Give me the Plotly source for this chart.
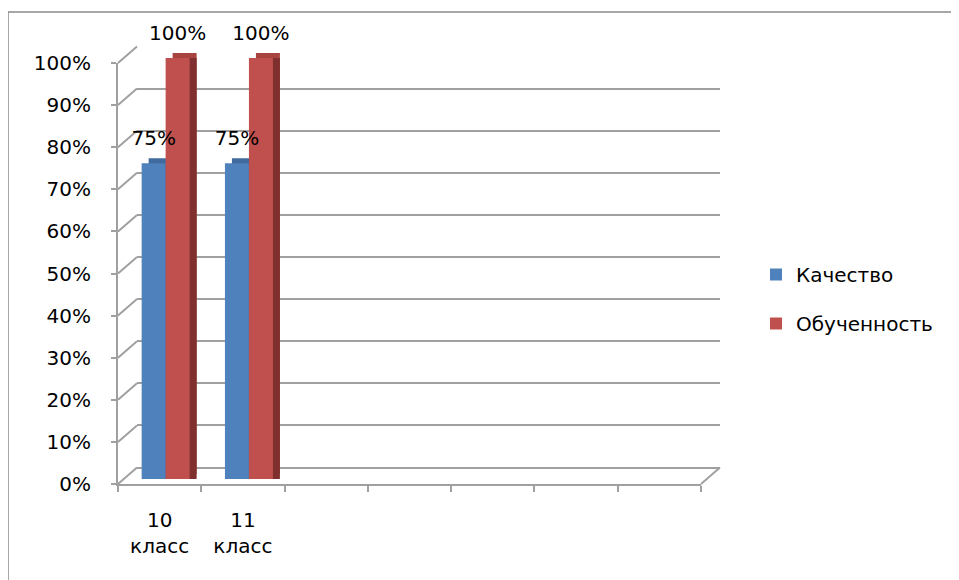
import plotly.graph_objects as go

# ---- data ----
categories = ["10 класс", "11 класс"]
series_names = ["Качество", "Обученность"]
kachestvo = [0.75, 0.75]
obuchennost = [1.0, 1.0]
n_slots = 7  # category slots on the axis (5 are empty)
y_ticks = [0, 0.1, 0.2, 0.3, 0.4, 0.5, 0.6, 0.7, 0.8, 0.9, 1.0]

# ---- style / geometry ----
W, H = 959, 580
PAGE = 8                 # browser body margin, compensated
FX0, FX1 = 118, 701      # front x-extent (px in window)
FY0, FH = 484, 421       # front 0% y (px), pixels for 100%
FONT = "DejaVu Sans"
FS = 20
BLUE, RED = "#4F81BD", "#C0504D"
BLUE_TOP, RED_TOP = "#3F6B9E", "#A8433F"
BLUE_SIDE, RED_SIDE = "#3A5F8B", "#7F2F2D"
GRID = "#A0A0A0"

layers = {
    "back": (19, -16.5),
    "top": (13, -10),
    "side": (13, -5),
    "bars": (6, -5),
    "labels": (6, -15),
    "front": (0, 0),
}


def px(x):
    return (x - PAGE) / W


def py(y):
    return 1 - (y - PAGE) / H


def xdom(dx):
    return [px(FX0 + dx), px(FX1 + dx)]


def ydom(dy):
    return [py(FY0 + dy), py(FY0 + dy - FH)]


xpos = list(range(len(categories)))
xr = [-0.5, n_slots - 0.5]
BARGAP = 0.424

fig = go.Figure()

order = ["back", "top", "side", "bars", "labels", "front"]
ax_id = {name: i + 1 for i, name in enumerate(order)}


def axn(name):
    i = ax_id[name]
    return ("x" if i == 1 else f"x{i}"), ("y" if i == 1 else f"y{i}")


# back wall: invisible trace to create the subplot
xa, ya = axn("back")
fig.add_trace(go.Scatter(x=[0], y=[0], mode="markers", marker=dict(opacity=0),
                         showlegend=False, hoverinfo="skip", xaxis=xa, yaxis=ya))

# top faces
xa, ya = axn("top")
for vals, col in [(kachestvo, BLUE_TOP), (obuchennost, RED_TOP)]:
    fig.add_trace(go.Bar(x=xpos, y=vals, marker=dict(color=col, line=dict(width=0)),
                         showlegend=False, hoverinfo="skip", xaxis=xa, yaxis=ya))
# side faces
xa, ya = axn("side")
for vals, col in [(kachestvo, BLUE_SIDE), (obuchennost, RED_SIDE)]:
    fig.add_trace(go.Bar(x=xpos, y=vals, marker=dict(color=col, line=dict(width=0)),
                         showlegend=False, hoverinfo="skip", xaxis=xa, yaxis=ya))
# main bars
xa, ya = axn("bars")
for name, vals, col in [(series_names[0], kachestvo, BLUE), (series_names[1], obuchennost, RED)]:
    fig.add_trace(go.Bar(x=xpos, y=vals, name=name, legendgroup=name,
                         marker=dict(color=col, line=dict(width=0)),
                         xaxis=xa, yaxis=ya))
# data labels
xa, ya = axn("labels")
for vals in [kachestvo, obuchennost]:
    fig.add_trace(go.Bar(x=xpos, y=vals, marker=dict(color="rgba(0,0,0,0)", line=dict(width=0)),
                         text=[f"{v:.0%}" for v in vals], textposition="outside",
                         constraintext="none", cliponaxis=False,
                         textfont=dict(family=FONT, size=FS, color="black"),
                         showlegend=False, hoverinfo="skip", xaxis=xa, yaxis=ya))
# front axes: invisible trace
xa, ya = axn("front")
fig.add_trace(go.Scatter(x=[0], y=[0], mode="markers", marker=dict(opacity=0),
                         showlegend=False, hoverinfo="skip", xaxis=xa, yaxis=ya))
# category labels axis (overlaying front)
fig.add_trace(go.Scatter(x=[0], y=[0], mode="markers", marker=dict(opacity=0),
                         showlegend=False, hoverinfo="skip", xaxis="x7", yaxis=ya))

layout = dict(
    width=W, height=H,
    margin=dict(l=0, r=0, t=0, b=0, pad=0, autoexpand=False),
    paper_bgcolor="white",
    plot_bgcolor="rgba(0,0,0,0)",
    barmode="group", bargap=BARGAP, bargroupgap=0,
    font=dict(family=FONT, size=FS, color="black"),
    showlegend=True,
    legend=dict(x=px(756), xanchor="left", y=py(299), yanchor="middle",
                traceorder="grouped", tracegroupgap=20,
                font=dict(family=FONT, size=FS, color="black"),
                bgcolor="rgba(0,0,0,0)"),
)

hidden_x = dict(range=xr, showgrid=False, zeroline=False, showline=False, automargin=False,
                showticklabels=False, ticks="", fixedrange=True)
hidden_y = dict(range=[0, 1], showgrid=False, zeroline=False, showline=False, automargin=False,
                showticklabels=False, ticks="", fixedrange=True)

for name in order:
    i = ax_id[name]
    dx, dy = layers[name]
    xk = "xaxis" if i == 1 else f"xaxis{i}"
    yk = "yaxis" if i == 1 else f"yaxis{i}"
    xa, ya = axn(name)
    xd = dict(hidden_x, domain=xdom(dx), anchor=ya)
    yd = dict(hidden_y, domain=ydom(dy), anchor=xa)
    if name == "back":
        yd.update(showgrid=True, gridcolor=GRID, gridwidth=2, tickvals=y_ticks,
                  zeroline=True, zerolinecolor=GRID, zerolinewidth=2)
    if name == "front":
        xd.update(showline=True, linecolor=GRID, linewidth=2,
                  tickmode="array", tickvals=[k - 0.5 for k in range(n_slots + 1)],
                  ticks="outside", ticklen=6, tickwidth=2, tickcolor=GRID)
        yd.update(showline=True, linecolor=GRID, linewidth=2,
                  tickmode="array", tickvals=y_ticks, tickformat=".0%",
                  showticklabels=True, ticks="outside", ticklen=5, tickwidth=2,
                  tickcolor=GRID, ticklabelstandoff=16,
                  tickfont=dict(family=FONT, size=FS, color="black"))
    layout[xk] = xd
    layout[yk] = yd

# category label axis
fa_x, fa_y = axn("front")
layout["xaxis7"] = dict(hidden_x, domain=xdom(0), anchor=fa_y, overlaying=fa_x,
                        side="bottom", showticklabels=True, tickmode="array",
                        tickvals=xpos, ticktext=[c.replace(" ", "<br>") for c in categories],
                        ticklabelstandoff=22,
                        tickfont=dict(family=FONT, size=FS, color="black"))

# 3-D wall edges (depth lines) and outer border
bdx, bdy = layers["back"]
shapes = []
for v in y_ticks:
    yf = FY0 - v * FH
    shapes.append(dict(type="line", xref="paper", yref="paper", layer="below",
                       x0=px(FX0), y0=py(yf), x1=px(FX0 + bdx), y1=py(yf + bdy),
                       line=dict(color=GRID, width=2)))
shapes.append(dict(type="line", xref="paper", yref="paper", layer="below",
                   x0=px(FX1), y0=py(FY0), x1=px(FX1 + bdx), y1=py(FY0 + bdy),
                   line=dict(color=GRID, width=2)))
shapes.append(dict(type="rect", xref="paper", yref="paper", layer="below",
                   x0=px(8), y0=-0.02, x1=1.02, y1=py(12),
                   line=dict(color="#8A8A8A", width=1.5)))
layout["shapes"] = shapes

fig.update_layout(**layout)
fig.write_html("out.html")
